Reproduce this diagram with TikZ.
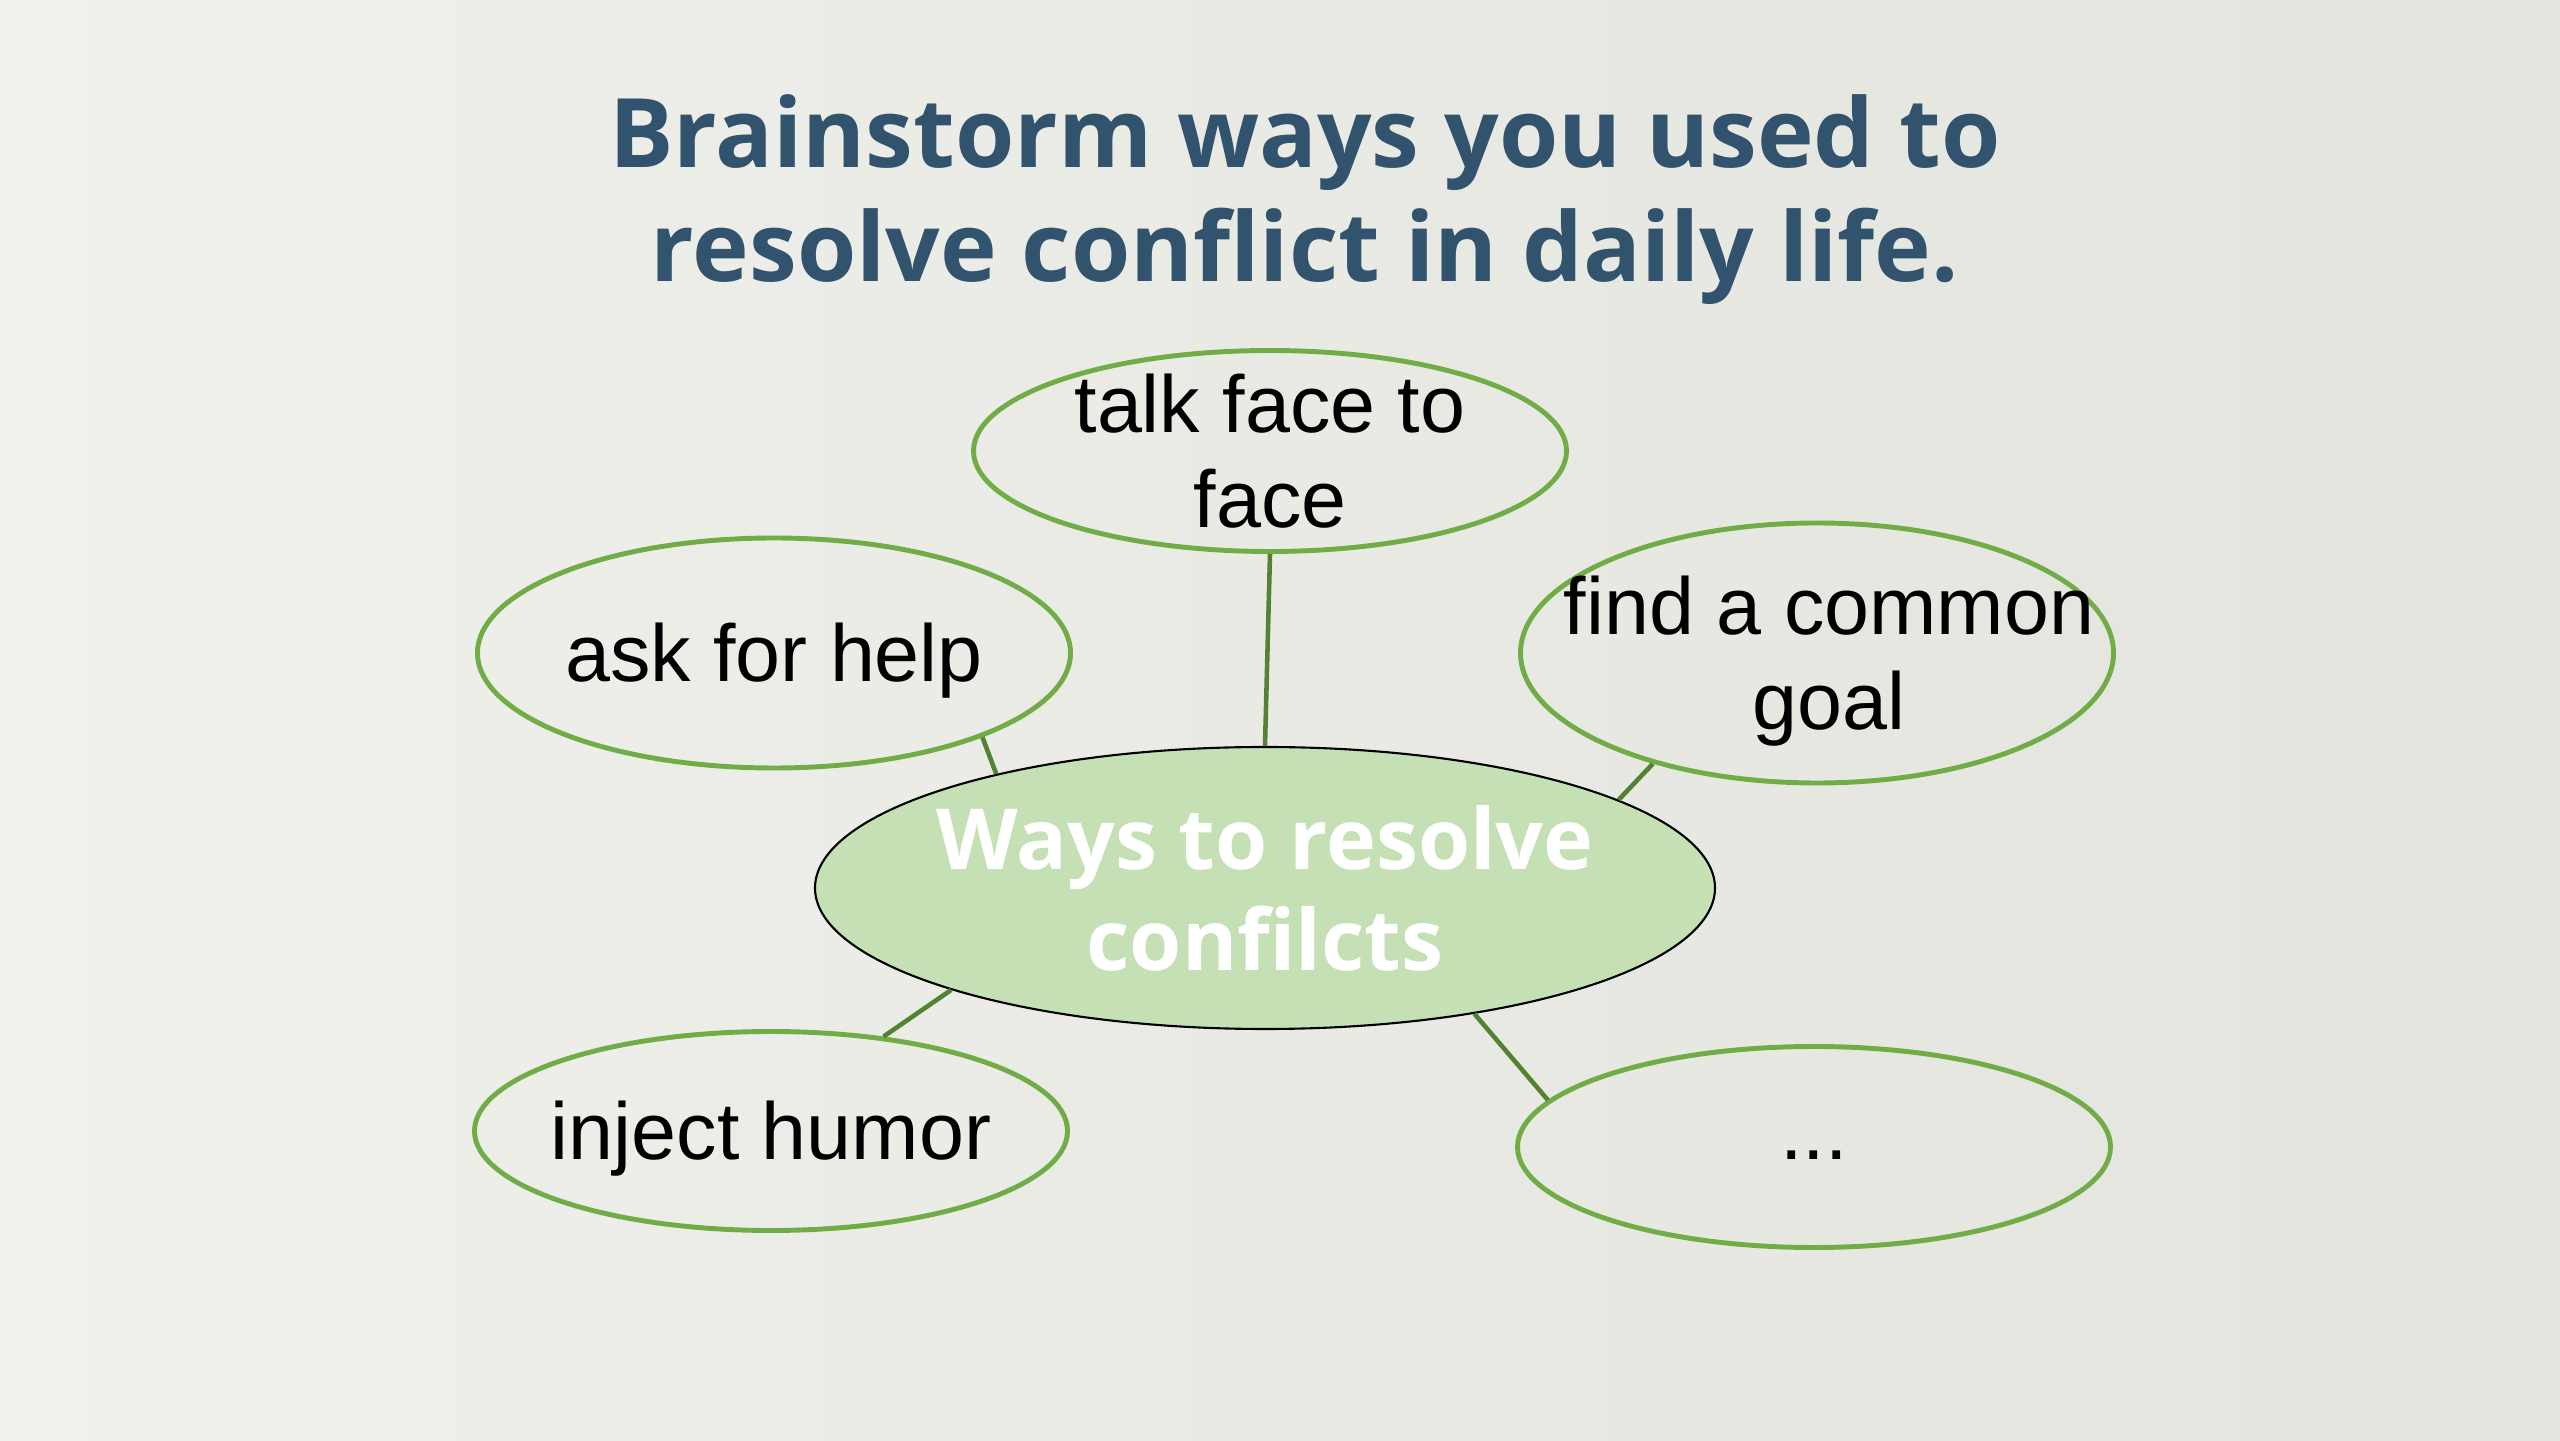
\documentclass[tikz,border=0pt]{standalone}
\usepackage{fontspec}
\setmainfont{Liberation Sans}
\newfontfamily\headfont{Open Sans}
\usetikzlibrary{shapes.geometric}
\definecolor{slideleft}{HTML}{F0F0EC}
\definecolor{slideright}{HTML}{E4E4DE}
\definecolor{headblue}{HTML}{31536E}
\definecolor{ringgreen}{HTML}{70AD47}
\definecolor{linkgreen}{HTML}{548235}
\definecolor{hubfill}{HTML}{C5E0B4}
\tikzset{
	idea/.style={
		ellipse,
		draw=ringgreen,
		line width=1.4pt,
		minimum width=5.93cm,
		minimum height=2.01cm},
	hub/.style={
		ellipse,
		draw=black,
		fill=hubfill,
		line width=0.6pt,
		minimum width=9cm,
		minimum height=2.82cm},
	hubtext/.style={
		text=white,
		font=\headfont\bfseries\fontsize{24}{28.8}\selectfont},
	headline/.style={
		text=headblue,
		align=center,
		font=\headfont\bfseries\fontsize{27.3}{32.4}\selectfont},
	spoke/.style={
		draw=linkgreen,
		line width=1.3pt},
	lowtext/.style={yshift=-0.08cm},
	every label/.style={
		align=center,
		font=\fontsize{23}{27}\selectfont}
}
\begin{document}
\begin{tikzpicture}
    \shade[left color=slideleft, right color=slideright] (0,0) rectangle (25.6,14.4);
    \useasboundingbox (0,0) rectangle (25.6,14.4);

    \node[headline] (title) at (13.05,12.40) {Brainstorm ways you used to\\resolve conflict in daily life.};

    \node[hub,
          label={[hubtext]center:Ways to resolve\\confilcts}
          ] (hub) at (12.65,5.52) {};
    \node[idea,
          label={center:talk face to\\face}
          ] (talk) at (12.70,9.89) {};
    \node[idea,
          minimum height=2.30cm,
          label={[lowtext]center:ask for help}
          ] (ask) at (7.74,7.87) {};
    \node[idea,
          minimum height=2.60cm,
          label={[lowtext, xshift=0.12cm]center:find a common\\goal}
          ] (goal) at (18.17,7.87) {};
    \node[idea,
          minimum height=1.99cm,
          label={[lowtext]center:inject humor}
          ] (humor) at (7.71,3.09) {};
    \node[idea,
          label={[lowtext]center:...}
          ] (more) at (18.14,2.93) {};

    \path (hub.north) edge[spoke] (talk.south);
    \path (hub.157) edge[spoke] (ask.338);
    \path (hub.14) edge[spoke] (goal.214);
    \path (hub.198) edge[spoke] (humor.40);
    \path (hub.329) edge[spoke] (more.170);
\end{tikzpicture}
\end{document}
